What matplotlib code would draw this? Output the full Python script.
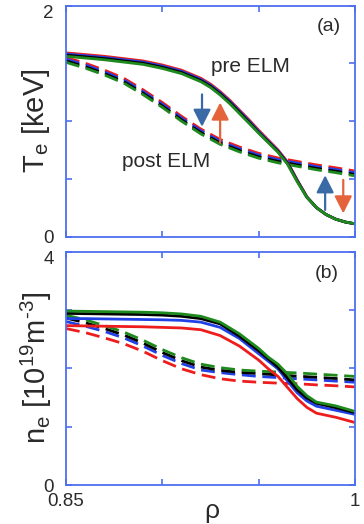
import matplotlib
matplotlib.use("Agg")
import matplotlib.pyplot as plt
from matplotlib.ticker import FixedLocator, NullFormatter

plt.rcParams['font.family'] = ['Liberation Sans', 'DejaVu Sans']
plt.rcParams['mathtext.fontset'] = 'custom'
plt.rcParams['mathtext.rm'] = 'Liberation Sans'
plt.rcParams['mathtext.it'] = 'Liberation Sans'

# ---- Te profiles (keV) ----
rho_te_pre = [0.85, 0.86, 0.87, 0.88, 0.89, 0.90, 0.91, 0.92, 0.925, 0.93, 0.935, 0.94,
              0.945, 0.95, 0.955, 0.96, 0.965, 0.97, 0.975, 0.98, 0.985, 0.99, 0.995, 1.0]
te_pre_red = [1.59, 1.575, 1.56, 1.54, 1.52, 1.485, 1.44, 1.37, 1.32, 1.255, 1.18, 1.095,
              1.01, 0.92, 0.835, 0.75, 0.645, 0.49, 0.345, 0.25, 0.19, 0.15, 0.125, 0.11]
te_pre_blue = [1.58, 1.565, 1.55, 1.53, 1.51, 1.475, 1.43, 1.36, 1.31, 1.245, 1.17, 1.085,
               1.0, 0.91, 0.825, 0.742, 0.638, 0.485, 0.342, 0.25, 0.19, 0.15, 0.125, 0.11]
te_pre_black = [1.57, 1.555, 1.54, 1.52, 1.50, 1.465, 1.42, 1.35, 1.30, 1.235, 1.16, 1.075,
                0.99, 0.90, 0.818, 0.735, 0.632, 0.48, 0.34, 0.25, 0.19, 0.15, 0.125, 0.11]
te_pre_green = [1.56, 1.545, 1.53, 1.51, 1.49, 1.455, 1.41, 1.34, 1.29, 1.225, 1.15, 1.065,
                0.98, 0.895, 0.812, 0.73, 0.625, 0.475, 0.34, 0.25, 0.19, 0.15, 0.125, 0.11]

rho_post = [0.85, 0.86, 0.87, 0.88, 0.89, 0.90, 0.91, 0.92, 0.93, 0.94,
            0.95, 0.96, 0.97, 0.98, 0.99, 1.0]
te_post_red = [1.55, 1.50, 1.44, 1.37, 1.27, 1.16, 1.04, 0.93, 0.84, 0.775,
               0.72, 0.68, 0.65, 0.62, 0.595, 0.567]
te_post_blue = [1.535, 1.485, 1.425, 1.355, 1.255, 1.145, 1.025, 0.915, 0.825, 0.76,
                0.705, 0.665, 0.635, 0.605, 0.58, 0.552]
te_post_black = [1.52, 1.47, 1.41, 1.34, 1.24, 1.13, 1.01, 0.90, 0.81, 0.745,
                 0.69, 0.65, 0.62, 0.59, 0.565, 0.537]
te_post_green = [1.508, 1.458, 1.398, 1.328, 1.228, 1.118, 0.998, 0.888, 0.798, 0.733,
                 0.678, 0.638, 0.608, 0.578, 0.553, 0.525]

# ---- ne profiles (1e19 m^-3) ----
rho_ne_pre = [0.85, 0.86, 0.87, 0.88, 0.89, 0.90, 0.91, 0.92, 0.93, 0.94,
              0.95, 0.955, 0.96, 0.965, 0.97, 0.975, 0.98, 0.99, 1.0]
ne_pre_red = [2.73, 2.725, 2.72, 2.715, 2.71, 2.70, 2.69, 2.66, 2.56, 2.38,
              2.14, 1.99, 1.86, 1.67, 1.48, 1.33, 1.23, 1.16, 1.07]
ne_pre_blue = [2.85, 2.85, 2.845, 2.84, 2.835, 2.83, 2.82, 2.79, 2.70, 2.51,
               2.25, 2.12, 1.99, 1.78, 1.58, 1.44, 1.35, 1.28, 1.21]
ne_pre_black = [2.94, 2.935, 2.93, 2.925, 2.92, 2.91, 2.89, 2.85, 2.76, 2.55,
                2.30, 2.16, 2.02, 1.83, 1.63, 1.49, 1.40, 1.325, 1.24]
ne_pre_green = [2.98, 2.975, 2.97, 2.965, 2.96, 2.95, 2.93, 2.89, 2.79, 2.59,
                2.34, 2.19, 2.07, 1.90, 1.69, 1.53, 1.42, 1.355, 1.26]

ne_post_red = [2.68, 2.61, 2.52, 2.42, 2.29, 2.13, 1.99, 1.89, 1.82, 1.78,
               1.76, 1.745, 1.735, 1.715, 1.70, 1.68]
ne_post_blue = [2.80, 2.72, 2.63, 2.52, 2.38, 2.22, 2.08, 1.97, 1.925, 1.89,
                1.86, 1.84, 1.82, 1.80, 1.78, 1.76]
ne_post_black = [2.86, 2.78, 2.68, 2.57, 2.43, 2.27, 2.13, 2.02, 1.965, 1.93,
                 1.91, 1.885, 1.865, 1.845, 1.825, 1.80]
ne_post_green = [2.91, 2.83, 2.73, 2.62, 2.48, 2.32, 2.18, 2.07, 2.01, 1.97,
                 1.95, 1.935, 1.92, 1.90, 1.88, 1.86]

colors = ['#ee1d1d', '#2140e6', '#000000', '#1e8a1e']  # red, blue, black, green
spine_col = '#4d6ff0'
text_col = '#2a2a2a'
arrow_blue = '#3a6aa6'
arrow_orange = '#e5633a'
dash = (0, (5.0, 2.4))
lw = 2.0

fig = plt.figure(figsize=(3.64, 5.24), dpi=100)
ax1 = fig.add_axes([66 / 364, 1 - 236.5 / 524, 289 / 364, 231 / 524])
ax2 = fig.add_axes([66 / 364, 1 - 485 / 524, 289 / 364, 233.5 / 524])

te_pre = [te_pre_red, te_pre_blue, te_pre_black, te_pre_green]
te_post = [te_post_red, te_post_blue, te_post_black, te_post_green]
ne_pre = [ne_pre_red, ne_pre_blue, ne_pre_black, ne_pre_green]
ne_post = [ne_post_red, ne_post_blue, ne_post_black, ne_post_green]

for c, yd in zip(colors, te_post):
    ax1.plot(rho_post, yd, color=c, lw=lw, ls=dash)
for c, yd in zip(colors, te_pre):
    ax1.plot(rho_te_pre, yd, color=c, lw=lw)
for c, yd in zip(colors, ne_post):
    ax2.plot(rho_post, yd, color=c, lw=lw, ls=dash)
for c, yd in zip(colors, ne_pre):
    ax2.plot(rho_ne_pre, yd, color=c, lw=lw)


def arrow(ax, x, y0, y1, col):
    ax.annotate('', xy=(x, y1), xytext=(x, y0),
                arrowprops=dict(arrowstyle='-|>,head_width=0.38,head_length=0.75',
                                color=col, lw=1.6, mutation_scale=14,
                                shrinkA=0, shrinkB=0))


arrow(ax1, 0.9206, 1.23, 0.95, arrow_blue)
arrow(ax1, 0.9300, 0.81, 1.16, arrow_orange)
arrow(ax1, 0.9845, 0.23, 0.53, arrow_blue)
arrow(ax1, 0.9939, 0.49, 0.20, arrow_orange)

ax1.text(0.9455, 1.47, 'pre ELM', fontsize=15, color=text_col, ha='center', va='center')
ax1.text(0.902, 0.65, 'post ELM', fontsize=15, color=text_col, ha='center', va='center')
ax1.text(0.9865, 1.82, '(a)', fontsize=14, color=text_col, ha='center', va='center')
ax2.text(0.9855, 3.63, '(b)', fontsize=14, color=text_col, ha='center', va='center')

for ax, ymax, minors in ((ax1, 2, [0.5, 1.0, 1.5]), (ax2, 4, [1, 2, 3])):
    ax.set_xlim(0.85, 1.0)
    ax.set_ylim(0, ymax)
    ax.xaxis.set_major_locator(FixedLocator([0.85, 1.0]))
    ax.xaxis.set_minor_locator(FixedLocator([0.9, 0.95]))
    ax.yaxis.set_major_locator(FixedLocator([0, ymax]))
    ax.yaxis.set_minor_locator(FixedLocator(minors))
    ax.set_yticklabels(['0', str(ymax)])
    for s in ax.spines.values():
        s.set_color(spine_col)
        s.set_linewidth(1.3)
    ax.tick_params(which='both', direction='in', top=True, right=True,
                   color=spine_col, width=1.2, length=4,
                   labelcolor=text_col, labelsize=13.5)
    ax.tick_params(axis='y', pad=9)
    ax.tick_params(axis='x', pad=6)
    ax.yaxis.get_major_ticks()[-1].label1.set_va('top')

ax1.xaxis.set_major_formatter(NullFormatter())
ax2.set_xticklabels(['0.85', '1'])

ax1.set_ylabel(r'T$_{\rm e}$ [keV]', fontsize=21, color=text_col)
ax2.set_ylabel('n$_{\\rm e}$ [10$^{\\rm 19}$m$^{\\rm \u20103}$]', fontsize=21, color=text_col)
ax1.yaxis.set_label_coords(-0.048, 0.5)
ax2.yaxis.set_label_coords(-0.04, 0.5)
ax2.set_xlabel('ρ', fontsize=19, color=text_col)
ax2.xaxis.set_label_coords(0.505, -0.058)

fig.savefig('out.png', dpi=100)
